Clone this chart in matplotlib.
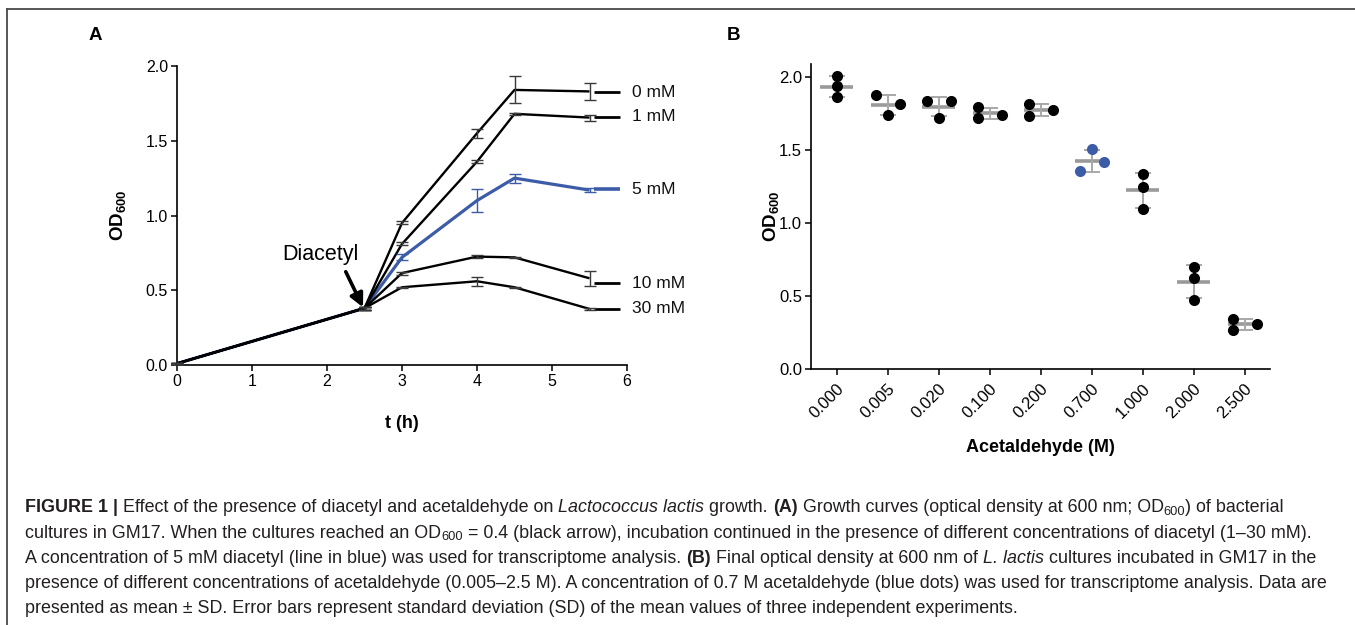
import matplotlib
matplotlib.use('Agg')
import matplotlib.pyplot as plt
import numpy as np
from matplotlib.lines import Line2D
from matplotlib.font_manager import FontProperties

W, H = 1355, 625
FONT = 'Liberation Sans'
plt.rcParams['font.family'] = [FONT, 'DejaVu Sans']
plt.rcParams['mathtext.fontset'] = 'custom'
plt.rcParams['mathtext.rm'] = FONT
plt.rcParams['mathtext.bf'] = FONT + ':bold'
plt.rcParams['mathtext.it'] = FONT + ':italic'

# ---------------- Panel A data ----------------
times = [0, 2.5, 3, 4, 4.5, 5.5]
series_names = ['0 mM', '1 mM', '5 mM', '10 mM', '30 mM']
od_0mM = [0.01, 0.38, 0.95, 1.55, 1.84, 1.83]
od_1mM = [0.01, 0.38, 0.81, 1.36, 1.68, 1.655]
od_5mM = [0.01, 0.38, 0.72, 1.10, 1.25, 1.17]
od_10mM = [0.01, 0.38, 0.615, 0.725, 0.72, 0.58]
od_30mM = [0.01, 0.38, 0.52, 0.56, 0.52, 0.375]
sd_0mM = [0.005, 0.01, 0.01, 0.03, 0.09, 0.055]
sd_1mM = [0.005, 0.01, 0.01, 0.01, 0.005, 0.02]
sd_5mM = [0.005, 0.01, 0.02, 0.075, 0.03, 0.015]
sd_10mM = [0.005, 0.01, 0.01, 0.01, 0.005, 0.05]
sd_30mM = [0.005, 0.01, 0.005, 0.03, 0.005, 0.005]
label_y = [1.826, 1.66, 1.175, 0.546, 0.377]

# ---------------- Panel B data ----------------
acet_labels = ['0.000', '0.005', '0.020', '0.100', '0.200', '0.700', '1.000', '2.000', '2.500']
acet_reps = [
    [2.005, 1.936, 1.863],
    [1.874, 1.737, 1.813],
    [1.835, 1.721, 1.835],
    [1.794, 1.719, 1.742],
    [1.817, 1.735, 1.771],
    [1.355, 1.504, 1.415],
    [1.333, 1.246, 1.093],
    [0.697, 0.622, 0.475],
    [0.341, 0.267, 0.309],
]
acet_jitter = [
    [0, 0, 0],
    [-0.23, 0, 0.24],
    [-0.23, 0, 0.24],
    [-0.23, -0.23, 0.24],
    [-0.23, -0.23, 0.24],
    [-0.23, 0, 0.24],
    [0, 0, 0],
    [0, 0, 0],
    [-0.23, -0.23, 0.24],
]
highlight_index = 5

BLUE = '#3d5ca8'
BLACK = '#000000'

fig = plt.figure(figsize=(W / 100, H / 100), dpi=100)
fig.patch.set_facecolor('white')

# frame lines
fig.add_artist(Line2D([7.5 / W, 1.0], [1 - 8.5 / H, 1 - 8.5 / H], transform=fig.transFigure,
                      color='#4a4a4a', lw=1.3))
fig.add_artist(Line2D([7.5 / W, 7.5 / W], [1 - 8.5 / H, 0.0], transform=fig.transFigure,
                      color='#4a4a4a', lw=1.3))

def fx(px):
    return px / W

def fy(py):
    return 1 - py / H

# ---------------- Panel A ----------------
axA = fig.add_axes([fx(177), fy(365), (627 - 177) / W, (365 - 66) / H])
all_od = [od_0mM, od_1mM, od_5mM, od_10mM, od_30mM]
all_sd = [sd_0mM, sd_1mM, sd_5mM, sd_10mM, sd_30mM]
for i, (name, od, sd) in enumerate(zip(series_names, all_od, all_sd)):
    col = BLUE if name == '5 mM' else BLACK
    lw = 2.3 if name == '5 mM' else 1.7
    z = 2 if name == '5 mM' else 3
    axA.plot(times, od, color=col, lw=lw, zorder=z, solid_capstyle='butt', clip_on=False)
    ecol = BLUE if name == '5 mM' else '#3a3a3a'
    axA.errorbar(times, od, yerr=sd, fmt='none', ecolor=ecol, elinewidth=1.0,
                 capsize=4.5, capthick=1.0, zorder=z + 1, clip_on=False)
    # label leader
    axA.plot([5.56, 5.91], [label_y[i], label_y[i]], color=col, lw=lw + 0.3,
             solid_capstyle='butt', zorder=z, clip_on=False)
    axA.text(6.06, label_y[i], name, fontsize=12.5, ha='left', va='center', color='#111111')

axA.set_xlim(0, 6)
axA.set_ylim(0, 2.0)
axA.set_xticks(range(0, 7))
axA.set_yticks([0, 0.5, 1.0, 1.5, 2.0])
axA.set_yticklabels(['0.0', '0.5', '1.0', '1.5', '2.0'])
axA.spines['top'].set_visible(False)
axA.spines['right'].set_visible(False)
for s in ['left', 'bottom']:
    axA.spines[s].set_linewidth(1.2)
axA.tick_params(direction='out', length=4.5, width=1.1, labelsize=11.5, pad=2)
axA.text(1.91, 0.742, 'Diacetyl', fontsize=15.5, ha='center', va='center')
axA.annotate('', xy=(2.48, 0.386), xytext=(2.25, 0.624),
             arrowprops=dict(arrowstyle='-|>', lw=2.6, color='black', mutation_scale=20,
                             shrinkA=0, shrinkB=0))
axA.set_ylabel(r'$\mathbf{OD_{600}}$', fontsize=13.5)
axA.yaxis.set_label_coords(-0.109, 0.5)
axA.text(0.5, -(424 - 365) / 299, 't (h)', transform=axA.transAxes, ha='center', va='center',
         fontsize=13, fontweight='bold')

# ---------------- Panel B ----------------
topB = 2.09
axB = fig.add_axes([fx(811), fy(369), (1270 - 811) / W, (topB * 146) / H])
for i, reps in enumerate(acet_reps):
    reps = np.array(reps)
    m = reps.mean()
    sd = reps.std(ddof=1)
    axB.hlines(m, i - 0.32, i + 0.32, color='#9a9a9a', lw=2.6, zorder=2)
    axB.errorbar(i, m, yerr=sd, fmt='none', ecolor='#a8a8a8', elinewidth=1.4,
                 capsize=6, capthick=1.4, zorder=2)
    col = BLUE if i == highlight_index else BLACK
    xs = [i + j for j in acet_jitter[i]]
    axB.plot(xs, reps, 'o', color=col, markersize=8, markeredgewidth=0, zorder=3)

axB.set_xlim(-0.5, 8.5)
axB.set_ylim(0, topB)
axB.set_xticks(range(len(acet_labels)))
axB.set_xticklabels(acet_labels, rotation=45, ha='right', va='top', rotation_mode='anchor')
axB.set_yticks([0, 0.5, 1.0, 1.5, 2.0])
axB.set_yticklabels(['0.0', '0.5', '1.0', '1.5', '2.0'])
axB.spines['top'].set_visible(False)
axB.spines['right'].set_visible(False)
for s in ['left', 'bottom']:
    axB.spines[s].set_linewidth(1.2)
axB.tick_params(direction='out', length=4.5, width=1.1, labelsize=12, pad=2)
axB.tick_params(axis='x', pad=4)
axB.set_ylabel(r'$\mathbf{OD_{600}}$', fontsize=13.5)
axB.yaxis.set_label_coords(-0.065, 0.5)
axB.text(0.5, -(447 - 369) / 305, 'Acetaldehyde (M)', transform=axB.transAxes, ha='center',
         va='center', fontsize=13, fontweight='bold')

# panel letters
fig.text(fx(95), fy(35), 'A', fontsize=13.5, fontweight='bold', ha='center', va='center')
fig.text(fx(733), fy(35), 'B', fontsize=13.5, fontweight='bold', ha='center', va='center')

# ---------------- Caption ----------------
CAP_FS = 12.9
CAP_COL = '#231f20'
renderer = fig.canvas.get_renderer()

def measure(s, fp):
    w1 = renderer.get_text_width_height_descent('x' + s + 'x', fp, ismath=False)[0]
    w0 = renderer.get_text_width_height_descent('xx', fp, ismath=False)[0]
    return w1 - w0

def draw_runs(baseline_px, runs, x_px=25):
    x = x_px
    for s, st in runs:
        size = CAP_FS
        weight = 'normal'
        style = 'normal'
        yoff = 0
        if st == 'b':
            weight = 'bold'
        elif st == 'i':
            style = 'italic'
        elif st == 'sub':
            size = CAP_FS * 0.72
            yoff = 3
        fp = FontProperties(family=FONT, size=size, weight=weight, style=style)
        fig.text(fx(x), fy(baseline_px + yoff), s, fontproperties=fp, color=CAP_COL,
                 ha='left', va='baseline')
        x += measure(s, fp)

caption_lines = [
    [('FIGURE 1 | ', 'b'),
     ('Effect of the presence of diacetyl and acetaldehyde on ', 'n'),
     ('Lactococcus lactis', 'i'), (' growth. ', 'n'), ('(A)', 'b'),
     (' Growth curves (optical density at 600 nm; OD', 'n'), ('600', 'sub'),
     (') of bacterial', 'n')],
    [('cultures in GM17. When the cultures reached an OD', 'n'), ('600', 'sub'),
     (' = 0.4 (black arrow), incubation continued in the presence of different concentrations of diacetyl (1\u201330 mM).', 'n')],
    [('A concentration of 5 mM diacetyl (line in blue) was used for transcriptome analysis. ', 'n'),
     ('(B)', 'b'), (' Final optical density at 600 nm of ', 'n'), ('L. lactis', 'i'),
     (' cultures incubated in GM17 in the', 'n')],
    [('presence of different concentrations of acetaldehyde (0.005\u20132.5 M). A concentration of 0.7 M acetaldehyde (blue dots) was used for transcriptome analysis. Data are', 'n')],
    [('presented as mean \u00b1 SD. Error bars represent standard deviation (SD) of the mean values of three independent experiments.', 'n')],
]
baselines = [512, 537.5, 563, 588, 613]
for bl, runs in zip(baselines, caption_lines):
    draw_runs(bl, runs)

fig.savefig('out.png', dpi=100, facecolor='white')
